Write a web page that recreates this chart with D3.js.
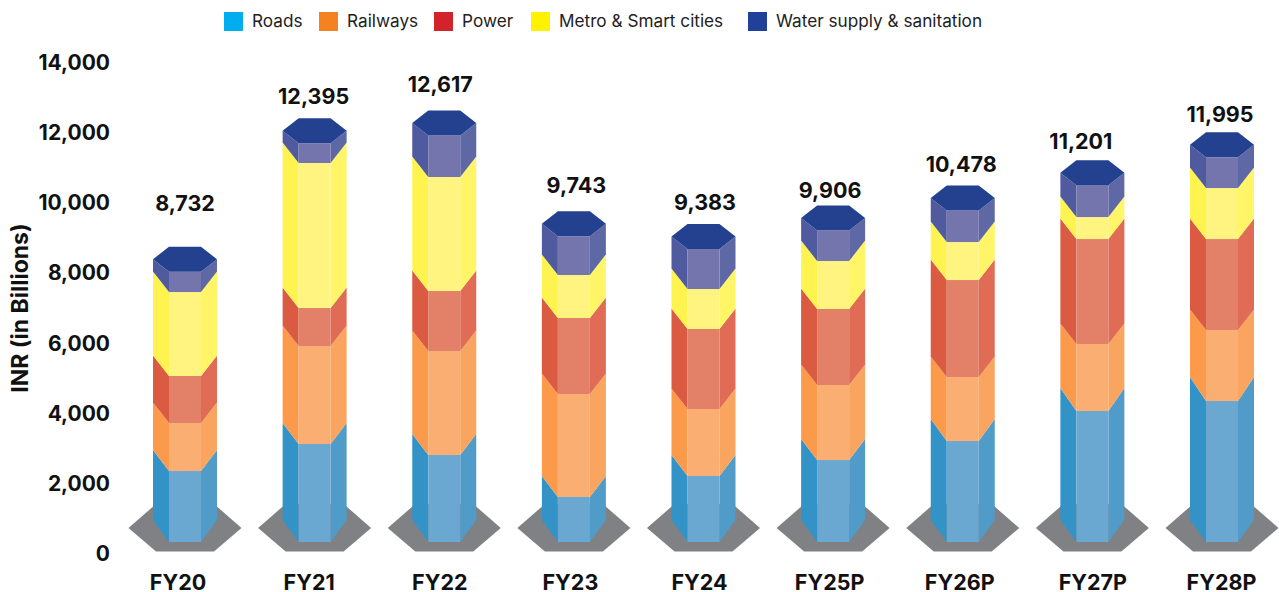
<!DOCTYPE html>
<html><head><meta charset="utf-8">
<script src="https://cdn.jsdelivr.net/npm/d3@7/dist/d3.min.js"></script>
<style>html,body{margin:0;padding:0;background:#fff}svg{display:block}text{font-family:Inter,Roboto,sans-serif;fill:#111}</style>
</head><body><svg id="c" width="1279" height="592"></svg>
<script>
const categories = ["FY20","FY21","FY22","FY23","FY24","FY25P","FY26P","FY27P","FY28P"];
const seriesNames = ["Roads","Railways","Power","Metro & Smart cities","Water supply & sanitation"];
const roads   = [3051,3821,3507,2310,2908,3364,3906,4761,5046];
const railways= [1368,2794,2966,2937,1911,2139,1825,1910,2024];
const power   = [1341,1083,1710,2166,2281,2167,2765,2994,2595];
const metro   = [2394,4135,3251,1226,1140,1368,1083, 627,1454];
const water   = [ 578, 562,1183,1104,1143, 868, 899, 909, 876];
const totals  = [8732,12395,12617,9743,9383,9906,10478,11201,11995];
const yTicks  = [0,2000,4000,6000,8000,10000,12000,14000];

const legendColors = ["#00AEEF","#F58220","#D2232A","#FFF200","#21409A"];
const faceLeft  = ["#3393C6","#FB9A4B","#DA5A42","#FFF44F","#4F5A9F"];
const faceFront = ["#6AA8D1","#FBAE72","#E28068","#FFF47F","#7575AE"];
const faceRight = ["#509BC8","#F9A45F","#E06C55","#FFF567","#5E68A5"];
const capTop = "#24418F", baseColor = "#808184";
const legendX = [224,319,434,531,748];
const valueNudgeX = [0,-1,-4,2.5,1.5,-3,-1.5,-11.5,-2];
const valueGap    = [44,22,27,26,22,16,22,19,18];
const catNudgeX   = [-7.5,-6,-5,-4,-4.5,-4,-3.5,0,-1];
const roadsRise   = [21,21,21,21,21,21,22,23,24];

const series = [roads,railways,power,metro,water];
const svg = d3.select("#c");
const y = d3.scaleLinear().domain([0,14000]).range([553,62]);
const x = d3.scalePoint().domain(categories).range([185,1222]);

const hexH = 25, hexV = 12.5, rise = 20.5, outer = 32, inner = 16, frontBottom = 542;

// y axis
const gy = svg.append("g").attr("transform","translate(110,0.7)")
  .call(d3.axisLeft(y).tickValues(yTicks).tickSize(0).tickPadding(0).tickFormat(d3.format(",")));
gy.select(".domain").remove();
gy.selectAll("text").style("font-size","21px").style("font-weight",700).style("font-family","Inter,Roboto,sans-serif");

// x labels
const gx = svg.append("g").attr("transform","translate(0,582)")
  .call(d3.axisBottom(x).tickSize(0).tickPadding(0));
gx.select(".domain").remove();
gx.selectAll(".tick text").attr("dy","0.36em").attr("y",0)
  .attr("dx",(d,i)=>catNudgeX[i])
  .style("font-size","21.5px").style("font-weight",700).style("font-family","Inter,Roboto,sans-serif");

svg.append("text").attr("transform","translate(20,308) rotate(-90)")
  .attr("text-anchor","middle").attr("dominant-baseline","central")
  .style("font-size","23px").style("font-weight",700).text("INR (in Billions)");

const pts = a => a.map(p=>p.join(",")).join(" ");

categories.forEach((c,i)=>{
  const cx = x(c);
  const g = svg.append("g");
  // base plinth
  g.append("polygon").attr("fill",baseColor).attr("points",pts([
    [cx-56.5,528],[cx-29,551.5],[cx+29,551.5],[cx+56.5,528],[cx+29,504],[cx-29,504]]));
  // stack
  let cum = 0;
  series.forEach((s,k)=>{
    const lower = k===0 ? frontBottom : y(cum)+hexH;
    cum += s[i];
    const upper = y(cum)+hexH;
    const isCap = k===series.length-1;
    const outerTop = isCap ? upper-hexV : (k===0 ? upper-roadsRise[i] : upper-rise);
    const lowerOut = k===0 ? lower-22 : (k===1 ? lower-roadsRise[i] : lower-rise);
    g.append("polygon").attr("fill",faceLeft[k]).attr("points",pts([
      [cx-outer,lowerOut],[cx-inner,lower],[cx-inner,upper],[cx-outer,outerTop]]));
    g.append("polygon").attr("fill",faceRight[k]).attr("points",pts([
      [cx+outer,lowerOut],[cx+inner,lower],[cx+inner,upper],[cx+outer,outerTop]]));
    g.append("rect").attr("x",cx-inner).attr("width",inner*2)
      .attr("y",upper).attr("height",lower-upper).attr("fill",faceFront[k]);
  });
  // cap top
  const t = y(totals[i]);
  g.append("polygon").attr("fill",capTop).attr("points",pts([
    [cx-outer,t+hexV],[cx-inner,t],[cx+inner,t],[cx+outer,t+hexV],[cx+inner,t+hexH],[cx-inner,t+hexH]]));
  // total
  svg.append("text").attr("x",cx+valueNudgeX[i]).attr("y",t-valueGap[i])
    .attr("text-anchor","middle").attr("dominant-baseline","central")
    .style("font-size","21.5px").style("font-weight",700).text(d3.format(",")(totals[i]));
});

// legend
seriesNames.forEach((n,i)=>{
  svg.append("rect").attr("x",legendX[i]).attr("y",12).attr("width",19).attr("height",19).attr("fill",legendColors[i]);
  svg.append("text").attr("x",legendX[i]+28).attr("y",20.5).attr("dominant-baseline","central")
    .style("font-size","17.2px").style("font-weight",400).style("fill","#222").text(n);
});
</script></body></html>
